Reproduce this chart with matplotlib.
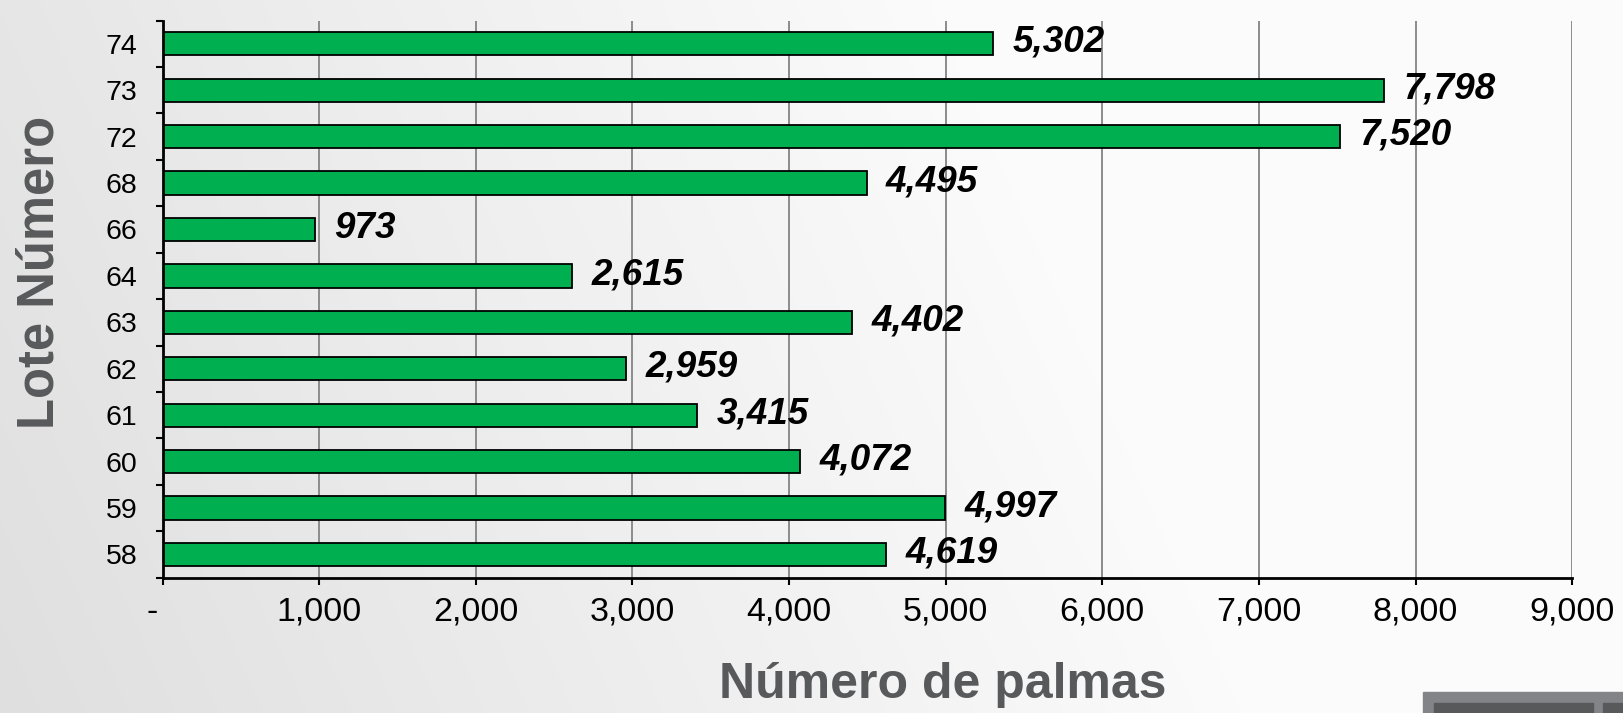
import numpy as np
import matplotlib.pyplot as plt
from matplotlib.patches import Rectangle
from matplotlib.ticker import FixedLocator

plt.rcParams['font.family'] = ['Liberation Sans', 'DejaVu Sans']

lotes = ['58', '59', '60', '61', '62', '63', '64', '66', '68', '72', '73', '74']
palmas = [4619, 4997, 4072, 3415, 2959, 4402, 2615, 973, 4495, 7520, 7798, 5302]
xticks = [0, 1000, 2000, 3000, 4000, 5000, 6000, 7000, 8000, 9000]
xlabels = ['-  ', '1,000', '2,000', '3,000', '4,000', '5,000', '6,000', '7,000', '8,000', '9,000']

fig = plt.figure(figsize=(16.24, 7.13), dpi=100)

# slide-like gradient background
bg = fig.add_axes([0, 0, 1, 1], zorder=-10)
gx = np.linspace(0, 1, 400)
gy = np.linspace(0, 1, 200)
GX, GY = np.meshgrid(gx, gy)
shade = 0.875 + 0.11 * np.clip(GX * 1.3 + GY * 0.25, 0, 1)
bg.imshow(np.dstack([shade, shade, shade]), aspect='auto', extent=[0, 1, 0, 1],
          origin='lower', interpolation='bilinear')
bg.set_xlim(0, 1)
bg.set_ylim(0, 1)
bg.axis('off')

# dark box in lower right corner
W, H = 1624, 713
fig.patches.append(Rectangle((1423 / W, 0), (W - 1423) / W, (H - 692) / H,
                             transform=fig.transFigure, color='#838487', zorder=-5))
fig.patches.append(Rectangle((1434 / W, 0), (1593 - 1434) / W, (H - 703) / H,
                             transform=fig.transFigure, color='#58595b', zorder=-4))
fig.patches.append(Rectangle((1603 / W, 0), (W - 1603) / W, (H - 703) / H,
                             transform=fig.transFigure, color='#58595b', zorder=-4))

ax = fig.add_axes([0.1001, 0.190, 0.868, 0.781])
ax.patch.set_alpha(0)

y = np.arange(len(lotes))
ax.barh(y, palmas, height=0.5, color='#00b050', edgecolor='black', linewidth=1.3, zorder=3)

for yi, v in zip(y, palmas):
    ax.annotate(f'{v:,}', (v, yi), xytext=(14, 1), textcoords='offset points',
                ha='left', va='center', fontsize=26.5, fontweight='bold', fontstyle='italic',
                color='black', zorder=4)

ax.set_xlim(0, 9000)
ax.set_ylim(-0.5, len(lotes) - 0.5)
ax.set_xticks(xticks)
ax.set_xticklabels(xlabels, fontsize=24.5)
ax.set_yticks(y)
ax.set_yticklabels(lotes, fontsize=20.5)
ax.yaxis.set_minor_locator(FixedLocator(np.arange(-0.5, len(lotes), 1.0)))
ax.tick_params(axis='y', which='major', length=0, pad=18)
ax.tick_params(axis='y', which='minor', length=5, width=1.5, direction='out')
ax.tick_params(axis='x', which='major', length=5, width=1.5, direction='out', pad=9)

ax.grid(axis='x', color='#8c8c8c', linewidth=1.4, zorder=0)
ax.xaxis.get_gridlines()[0].set_visible(False)
for s in ['top', 'right']:
    ax.spines[s].set_visible(False)
for s in ['left', 'bottom']:
    ax.spines[s].set_linewidth(2)
    ax.spines[s].set_zorder(5)

fig.text(943 / W, 1 - 698 / H, 'Número de palmas', ha='center', va='baseline',
         fontsize=36, fontweight='bold', color='#58595b')
fig.text(16 / W, 1 - 272 / H, 'Lote Número', ha='left', va='center', rotation=90,
         fontsize=36.5, fontweight='bold', color='#58595b')

fig.savefig('out.png', dpi=100)
